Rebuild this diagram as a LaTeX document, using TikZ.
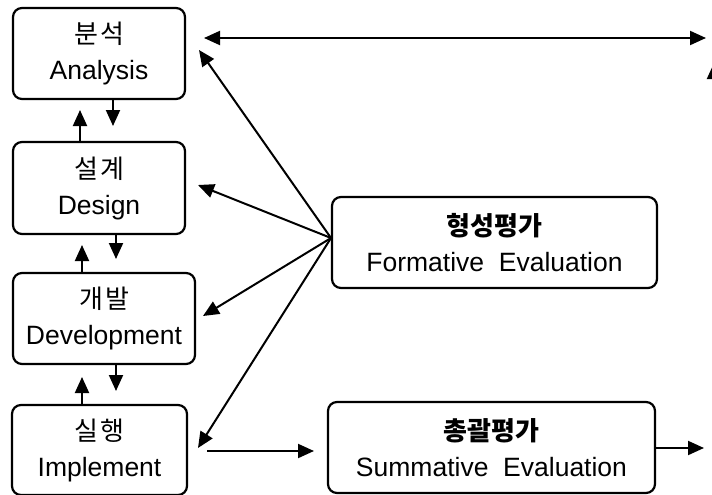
\documentclass[tikz,border=0pt]{standalone}
\usepackage{fontspec}
\setmainfont{Liberation Sans}
\newfontfamily\kr[LetterSpace=8]{Noto Sans CJK KR}
\newfontfamily\krbold{Noto Sans CJK KR}
\usetikzlibrary{arrows.meta}
\begin{document}
\begin{tikzpicture}[x=1pt,y=-1pt,
  box/.style={draw, line width=2.2pt, rounded corners=9pt, align=center, inner sep=0pt,
    font=\fontsize{26.5}{36}\selectfont},
  arr/.style={line width=2pt, -{Triangle[length=16pt,width=14pt]}},
  darr/.style={line width=2pt, {Triangle[length=16pt,width=14pt]}-{Triangle[length=16pt,width=14pt]}}]
\useasboundingbox (0,0) rectangle (712,495);
\clip (0,0) rectangle (712,495);
\newcommand\krl[1]{{\kr\fontsize{26}{36}\selectfont #1}}
\newcommand\krb[1]{{\krbold\bfseries\fontsize{26}{36}\selectfont #1}}
% left column
\node[box, minimum width=172pt, minimum height=91pt] (ana) at (99,53.5) {\krl{분석}\\Analysis};
\node[box, minimum width=172pt, minimum height=92pt] (des) at (99,188) {\krl{설계}\\Design};
\node[box, minimum width=182pt, minimum height=91pt] (dev) at (104,318.5) {\krl{개발}\\Development};
\node[box, minimum width=175pt, minimum height=90pt] (imp) at (99.5,450) {\krl{실행}\\Implement};
% right boxes
\node[box, minimum width=325pt, minimum height=91pt] (fo) at (494.5,242.5) {\krb{형성평가}\\Formative~~Evaluation};
\node[box, minimum width=327pt, minimum height=91pt] (su) at (491.5,447.5) {\krb{총괄평가}\\Summative~~Evaluation};
% vertical arrows
\draw[arr] (ana.south -| 113,0) -- (113,126) coordinate (t1);
\draw[arr] (des.north -| 80,0) -- (80,110) coordinate (t2);
\draw[arr] (des.south -| 116,0) -- (116,259) coordinate (t3);
\draw[arr] (dev.north -| 82,0) -- (82,245) coordinate (t4);
\draw[arr] (dev.south -| 116,0) -- (116,391) coordinate (t5);
\draw[arr] (imp.north -| 82,0) -- (82,377) coordinate (t6);
% formative hub arrows
\coordinate (hub) at (331,238);
\coordinate (ta) at (199,50);
\coordinate (td) at (198,185);
\coordinate (tv) at (203,316);
\coordinate (ti) at (198,448);
\draw[arr] (hub) -- (ta);
\draw[arr] (hub) -- (td);
\draw[arr] (hub) -- (tv);
\draw[arr] (hub) -- (ti);
% top double arrow
\coordinate (l1) at (204,38);
\coordinate (r1) at (706,38);
\draw[darr] (l1) -- (r1);
% partial up arrow at right edge
\coordinate (u0) at (714,200);
\coordinate (u1) at (714,63);
\draw[arr] (u0) -- (u1);
% implement -> summative
\coordinate (s0) at (207,451);
\coordinate (s0t) at (314,451);
\draw[arr] (s0) -- (s0t);
\coordinate (s1) at (704,448);
\draw[arr] (su.east |- s1) -- (s1);
\end{tikzpicture}
\end{document}
